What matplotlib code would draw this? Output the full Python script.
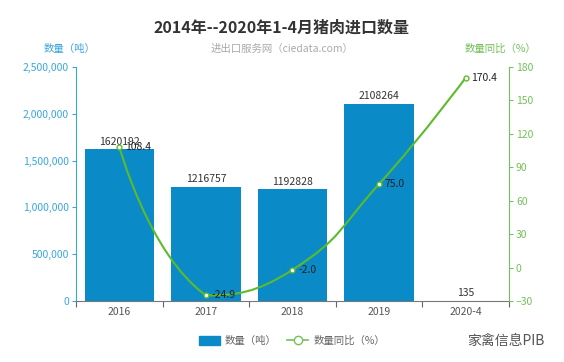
import numpy as np
import matplotlib
matplotlib.use("Agg")
import matplotlib.pyplot as plt
from matplotlib.path import Path
from matplotlib.patches import PathPatch, Patch
from matplotlib.lines import Line2D
from matplotlib.ticker import FuncFormatter

plt.rcParams["font.family"] = ["Noto Sans CJK SC", "DejaVu Sans"]

years = ["2016", "2017", "2018", "2019", "2020-4"]
qty = [1620192, 1216757, 1192828, 2108264, 135]
yoy = [108.4, -24.9, -2.0, 75.0, 170.4]

BAR = "#0a8bc8"
BLUE_AX = "#3aa6dc"
GREEN = "#5cbb2c"
GREEN_AX = "#74c05a"

fig = plt.figure(figsize=(5.64, 3.62), dpi=100)
ax = fig.add_axes([76 / 564, 61 / 362, 433 / 564, 234 / 362])
ax2 = ax.twinx()

x = np.arange(len(years))
ax.bar(x, qty, width=0.8, color=BAR, zorder=2)
ax.set_xlim(-0.5, len(years) - 0.5)
ax.set_ylim(0, 2500000)
ax.set_yticks(np.arange(0, 2500001, 500000))
ax.yaxis.set_major_formatter(FuncFormatter(lambda v, p: f"{int(v):,}"))
ax2.set_ylim(-30, 180)
ax2.set_yticks(np.arange(-30, 181, 30))

# x axis: ticks at category boundaries, labels centered
ax.set_xticks(np.arange(-0.5, len(years), 1.0))
ax.set_xticklabels([])
ax.set_xticks(x, minor=True)
ax.set_xticklabels(years, minor=True)
ax.tick_params(axis="x", which="major", length=4, color="#666666", direction="out")
ax.tick_params(axis="x", which="minor", length=0, labelsize=7.5, labelcolor="#555555", pad=4)

for s in ["top", "right"]:
    ax.spines[s].set_visible(False)
for s in ["top", "left", "bottom"]:
    ax2.spines[s].set_visible(False)
ax.spines["bottom"].set_color("#777777")
ax.spines["left"].set_color(BLUE_AX)
ax2.spines["right"].set_color(GREEN_AX)
ax.tick_params(axis="y", colors=BLUE_AX, labelsize=7.5, length=3, pad=2)
ax2.tick_params(axis="y", colors=GREEN_AX, labelsize=7.5, length=3, pad=2)

# bar labels
for xi, v in zip(x, qty):
    ax.annotate(str(v), (xi, v), xytext=(0, 2), textcoords="offset points",
                ha="center", va="bottom", fontsize=7.5, color="#333333", zorder=5)

# smooth line (ECharts-like bezier with bbox constraint, in pixel space)
ax2.set_zorder(ax.get_zorder() + 1)
ax2.patch.set_visible(False)
pts = ax2.transData.transform(np.column_stack([x, yoy]))
lo, hi = pts.min(axis=0), pts.max(axis=0)
sm = 0.5
n = len(pts)
outs = [None] * n
ins = [None] * n
for i in range(n):
    if i == 0 or i == n - 1:
        outs[i] = pts[i]
        ins[i] = pts[i]
        continue
    v = (pts[i + 1] - pts[i - 1]) * sm
    d0 = np.hypot(*(pts[i] - pts[i - 1]))
    d1 = np.hypot(*(pts[i + 1] - pts[i]))
    ins[i] = np.clip(pts[i] - v * d0 / (d0 + d1), lo, hi)
    outs[i] = np.clip(pts[i] + v * d1 / (d0 + d1), lo, hi)
verts = [pts[0]]
codes = [Path.MOVETO]
for i in range(1, n):
    verts += [outs[i - 1], ins[i], pts[i]]
    codes += [Path.CURVE4] * 3
inv = ax2.transData.inverted()
path = Path(inv.transform(np.array(verts)), codes)
ax2.add_patch(PathPatch(path, facecolor="none", edgecolor=GREEN, lw=1.5, zorder=3))
ax2.plot(x, yoy, ls="none", marker="o", ms=3.5, mfc="white", mec=GREEN, mew=1, zorder=4)
for xi, v in zip(x, yoy):
    ax2.annotate(f"{v:.1f}", (xi, v), xytext=(4, 0), textcoords="offset points",
                 ha="left", va="center", fontsize=7.5, color="#222222", zorder=5)

# titles
fig.text(0.5, 1 - 28 / 362, "2014年--2020年1-4月猪肉进口数量", ha="center", va="center",
         fontsize=11.5, fontweight="bold", color="#333333")
fig.text(0.5, 1 - 49 / 362, "进出口服务网（ciedata.com）", ha="center", va="center",
         fontsize=7.5, color="#aaaaaa")
fig.text(70 / 564, 1 - 49 / 362, "数量（吨）", ha="center", va="center",
         fontsize=7.5, color=BLUE_AX)
fig.text(500 / 564, 1 - 49 / 362, "数量同比（%）", ha="center", va="center",
         fontsize=7.5, color=GREEN_AX)

# legend
handles = [Patch(facecolor=BAR, edgecolor=BAR),
           Line2D([0], [0], color=GREEN_AX, lw=1.2, marker="o", ms=6, mfc="white", mec=GREEN_AX)]
fig.legend(handles, ["数量（吨）", "数量同比（%）"], loc="center", bbox_to_anchor=(292 / 564, 1 - 341 / 362),
           ncol=2, frameon=False, fontsize=7.5, labelcolor="#666666", handlelength=2.0,
           handleheight=1.0, columnspacing=1.0, handletextpad=0.5)

fig.text(545 / 564, 1 - 341 / 362, "家禽信息PIB", ha="right", va="center",
         fontsize=10, color="#555555")

fig.savefig("out.png", dpi=100)
